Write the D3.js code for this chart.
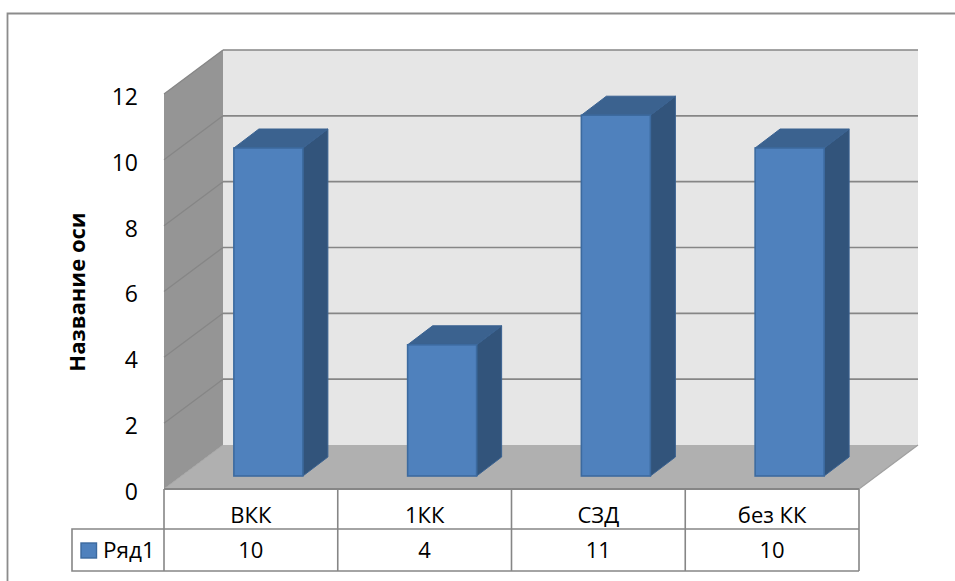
<!DOCTYPE html>
<html>
<head>
<meta charset="utf-8">
<script src="https://cdn.jsdelivr.net/npm/d3@7"></script>
<style>
html,body{margin:0;padding:0;background:#fff;overflow:hidden}
svg{display:block}
text{font-family:"Open Sans","Noto Sans",sans-serif;fill:#000}
</style>
</head>
<body>
<div id="chart"></div>
<script>
// Data
var categories = ["ВКК","1КК","СЗД","без КК"],
	values = [10,4,11,10],
	yTicks = [0,2,4,6,8,10,12],
	seriesName = "Ряд1",
	axisTitle = "Название оси";

// Layout
var width = 955, height = 581,
	left = 164, right = 859, bottom = 489, top12 = 94,
	wallDx = 59, wallDy = 44,
	barDx = 25, barDy = 19, barLift = 13, barShift = 17.5, barW = 69,
	row1 = 529, row2 = 571, legendLeft = 72;

var lineCol = "#868686";

var svg = d3.select("#chart").append("svg").attr("width",width).attr("height",height);

var x = d3.scaleBand().domain(categories).range([left,right]);
var y = d3.scaleLinear().domain([0,12]).range([bottom,top12]);
// bars stand a bit further in, so their unit height differs from the front wall
var barY = d3.scaleLinear().domain([0,12]).range([bottom-barLift,bottom-barLift-393.6]);

function poly(pts){ return pts.map(function(p){return p.join(",")}).join(" "); }

// outer frame, runs off the picture right and bottom
svg.append("path").attr("d","M7.5,581V13.5H955")
	.style("fill","none").style("stroke","#8c8c8c").style("stroke-width",1.8);

// walls
svg.append("polygon").attr("points",poly([[left+wallDx,y(12)-wallDy],[right+wallDx,y(12)-wallDy],[right+wallDx,y(0)-wallDy],[left+wallDx,y(0)-wallDy]]))
	.style("fill","#e6e6e6");
svg.append("polygon").attr("points",poly([[left,y(12)],[left+wallDx,y(12)-wallDy],[left+wallDx,y(0)-wallDy],[left,y(0)]]))
	.style("fill","#959595");
svg.append("polygon").attr("points",poly([[left,y(0)],[left+wallDx,y(0)-wallDy],[right+wallDx,y(0)-wallDy],[right,y(0)]]))
	.style("fill","#b0b0b0");

// gridlines
svg.selectAll(".gridback").data(yTicks.slice(1)).enter().append("line")
	.attr("x1",left+wallDx).attr("x2",right+wallDx)
	.attr("y1",function(d){return y(d)-wallDy}).attr("y2",function(d){return y(d)-wallDy})
	.style("stroke",lineCol).style("stroke-width",1.6);
svg.selectAll(".gridside").data(yTicks.slice(1)).enter().append("line")
	.attr("x1",left).attr("x2",left+wallDx)
	.attr("y1",function(d){return y(d)}).attr("y2",function(d){return y(d)-wallDy})
	.style("stroke",lineCol).style("stroke-width",1.3);
svg.append("polyline").attr("points",poly([[left,y(0)],[left+wallDx,y(0)-wallDy]]))
	.style("fill","none").style("stroke","#a6a6a6").style("stroke-width",1);
svg.append("polyline").attr("points",poly([[right,y(0)],[right+wallDx,y(0)-wallDy]]))
	.style("fill","none").style("stroke","#a0a0a0").style("stroke-width",1.2);

// bars
var bars = svg.selectAll(".bar").data(values).enter().append("g").attr("class","bar");
function bx(i){ return x(categories[i])+barShift+(x.bandwidth()-barW)/2; }

bars.append("polygon")
	.attr("points",function(d,i){
		var a=bx(i)+barW, t=barY(d), b=barY(0);
		return poly([[a,t],[a+barDx,t-barDy],[a+barDx,b-barDy],[a,b]]);
	})
	.style("fill","#32547b").style("stroke","#3a6291").style("stroke-width",1);
bars.append("polygon")
	.attr("points",function(d,i){
		var a=bx(i), t=barY(d);
		return poly([[a,t],[a+barDx,t-barDy],[a+barW+barDx,t-barDy],[a+barW,t]]);
	})
	.style("fill","#3b628f").style("stroke","#3a6291").style("stroke-width",1);
bars.append("rect")
	.attr("x",function(d,i){return bx(i)}).attr("y",function(d){return barY(d)})
	.attr("width",barW).attr("height",function(d){return barY(0)-barY(d)})
	.style("fill","#4f81bd").style("stroke","#3c6a9f").style("stroke-width",1.6);

// y axis, labels only
var yAxis = svg.append("g").attr("transform","translate(147,0)")
	.call(d3.axisLeft(y).tickValues(yTicks).tickSize(0).tickPadding(9));
yAxis.select(".domain").remove();
yAxis.selectAll("text").style("font-size","23px").attr("dy","0.45em");

svg.append("text").attr("transform","translate(85,292)rotate(-90)")
	.attr("text-anchor","middle").style("font-size","22px").style("font-weight","bold")
	.text(axisTitle);

// data table
var tableX = categories.map(function(c){return x(c)}).concat([right]);
svg.selectAll(".vline").data(tableX).enter().append("line")
	.attr("x1",function(d){return d}).attr("x2",function(d){return d})
	.attr("y1",bottom).attr("y2",row2)
	.style("stroke",lineCol).style("stroke-width",1.6);
svg.append("line").attr("x1",left).attr("x2",right).attr("y1",bottom).attr("y2",bottom)
	.style("stroke",lineCol).style("stroke-width",1.8);
svg.append("path").attr("d","M"+right+","+row1+"H"+legendLeft+"V"+row2+"H"+right)
	.style("fill","none").style("stroke",lineCol).style("stroke-width",1.6);

svg.selectAll(".cat").data(categories).enter().append("text")
	.attr("x",function(d){return x(d)+x.bandwidth()/2}).attr("y",523)
	.attr("text-anchor","middle").style("font-size","22px")
	.text(function(d){return d});
svg.selectAll(".val").data(values).enter().append("text")
	.attr("x",function(d,i){return x(categories[i])+x.bandwidth()/2}).attr("y",558)
	.attr("text-anchor","middle").style("font-size","22px")
	.text(function(d){return d});

// legend key
svg.append("rect").attr("x",81).attr("y",543).attr("width",15.5).attr("height",15)
	.style("fill","#4f81bd").style("stroke","#3c6a9f").style("stroke-width",1.4);
svg.append("text").attr("x",103).attr("y",558).style("font-size","22.5px").text(seriesName);
</script>
</body>
</html>
